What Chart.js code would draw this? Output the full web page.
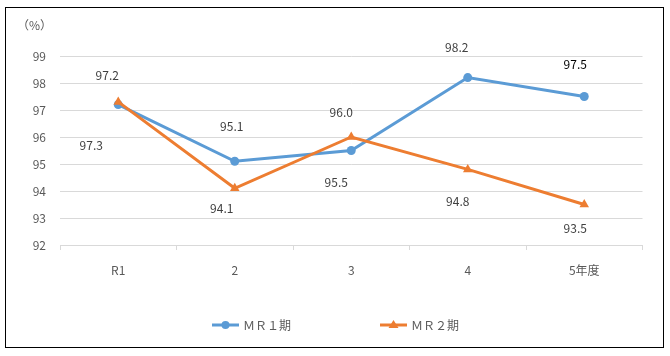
<!DOCTYPE html>
<html>
<head>
<meta charset="utf-8">
<script src="https://cdn.jsdelivr.net/npm/chart.js@4.4.1/dist/chart.umd.min.js"></script>
<style>
html,body{margin:0;padding:0;background:#fff;}
#wrap{width:670px;height:356px;position:relative;}
</style>
</head>
<body>
<div id="wrap"><canvas id="c" width="670" height="356"></canvas></div>
<script>
const categories = ['R1', '2', '3', '4', '5年度'];
const seriesNames = ['ＭＲ１期', 'ＭＲ２期'];
const mr1 = [97.2, 95.1, 95.5, 98.2, 97.5];
const mr2 = [97.3, 94.1, 96.0, 94.8, 93.5];
const yTicks = [92, 93, 94, 95, 96, 97, 98, 99];
const unitLabel = '（%）';

const FONT = '"Noto Sans CJK JP", "Noto Sans", sans-serif';
const BLUE = '#5B9BD5';
const ORANGE = '#ED7D31';
const TEXT = '#595959';

// label offsets (pixels relative to point)
const labelOffsets = [
  [[-11,-29],[-3,-35],[-15,32],[-11,-30],[-9,-32]],
  [[-27,44],[-13,20],[-10,-25],[-10,32],[-9,24]]
];

const framePlugin = {
  id: 'frame',
  beforeDraw(chart) {
    const ctx = chart.ctx;
    ctx.save();
    ctx.fillStyle = '#fff';
    ctx.fillRect(0, 0, chart.width, chart.height);
    ctx.strokeStyle = '#000';
    ctx.lineWidth = 1;
    ctx.strokeRect(5.5, 7.5, 658, 340);
    ctx.fillStyle = TEXT;
    ctx.font = '12px ' + FONT;
    ctx.textBaseline = 'middle';
    ctx.textAlign = 'left';
    ctx.fillText(unitLabel, 17, 25);
    ctx.restore();
  }
};

const labelPlugin = {
  id: 'ptlabels',
  afterDatasetsDraw(chart) {
    const ctx = chart.ctx;
    ctx.save();
    ctx.font = '12px ' + FONT;
    ctx.textAlign = 'center';
    ctx.textBaseline = 'middle';
    chart.data.datasets.forEach((ds, di) => {
      const meta = chart.getDatasetMeta(di);
      meta.data.forEach((pt, i) => {
        const off = labelOffsets[di][i];
        ctx.fillStyle = (di === 0 && i === 4) ? '#000' : '#404040';
        ctx.fillText(ds.data[i].toFixed(1), pt.x + off[0], pt.y + off[1]);
      });
    });
    ctx.restore();
  }
};

const legendPlugin = {
  id: 'customLegend',
  afterDraw(chart) {
    const ctx = chart.ctx;
    const y = 325;
    const items = [[212, 0], [380, 1]];
    ctx.save();
    items.forEach(([x0, di]) => {
      const ds = chart.data.datasets[di];
      ctx.strokeStyle = ds.borderColor;
      ctx.lineWidth = 3;
      ctx.beginPath();
      ctx.moveTo(x0, y);
      ctx.lineTo(x0 + 27, y);
      ctx.stroke();
      ctx.fillStyle = ds.borderColor;
      const cx = x0 + 13.5;
      if (di === 0) {
        ctx.beginPath();
        ctx.arc(cx, y, 4, 0, Math.PI * 2);
        ctx.fill();
      } else {
        ctx.beginPath();
        ctx.moveTo(cx, y - 5);
        ctx.lineTo(cx + 5, y + 3);
        ctx.lineTo(cx - 5, y + 3);
        ctx.closePath();
        ctx.fill();
      }
      ctx.fillStyle = TEXT;
      ctx.font = '12px ' + FONT;
      ctx.textAlign = 'left';
      ctx.textBaseline = 'middle';
      ctx.fillText(ds.label, x0 + 31, y);
    });
    ctx.restore();
  }
};

new Chart(document.getElementById('c'), {
  type: 'line',
  data: {
    labels: categories,
    datasets: [
      {
        label: seriesNames[0], data: mr1,
        borderColor: BLUE, backgroundColor: BLUE,
        borderWidth: 3, pointStyle: 'circle', pointRadius: 4.5,
        pointBackgroundColor: BLUE, pointBorderColor: BLUE, pointBorderWidth: 0,
        tension: 0, order: 1
      },
      {
        label: seriesNames[1], data: mr2,
        borderColor: ORANGE, backgroundColor: ORANGE,
        borderWidth: 3, pointStyle: 'triangle', pointRadius: 5.5,
        pointBackgroundColor: ORANGE, pointBorderColor: ORANGE, pointBorderWidth: 0,
        tension: 0, order: 0
      }
    ]
  },
  options: {
    responsive: false,
    animation: false,
    devicePixelRatio: 1,
    layout: { padding: { top: 56, right: 27.5, left: 0, bottom: 0 } },
    plugins: { legend: { display: false }, tooltip: { enabled: false } },
    scales: {
      x: {
        offset: true,
        grid: { display: true, offset: true, drawOnChartArea: false, drawTicks: true, tickLength: 5, color: '#d9d9d9' },
        border: { display: true, color: '#d9d9d9', width: 1 },
        ticks: { color: TEXT, font: { family: FONT, size: 12 }, padding: 13, maxRotation: 0 },
        afterFit(s) { s.height = 111; }
      },
      y: {
        min: 92, max: 99,
        afterBuildTicks(s) { s.ticks = yTicks.map(v => ({ value: v })); },
        grid: { color: '#d9d9d9', drawTicks: false },
        border: { display: false },
        ticks: { color: TEXT, font: { family: FONT, size: 12 }, padding: 14 },
        afterFit(s) { s.width = 60; }
      }
    }
  },
  plugins: [framePlugin, labelPlugin, legendPlugin]
});
</script>
</body>
</html>
